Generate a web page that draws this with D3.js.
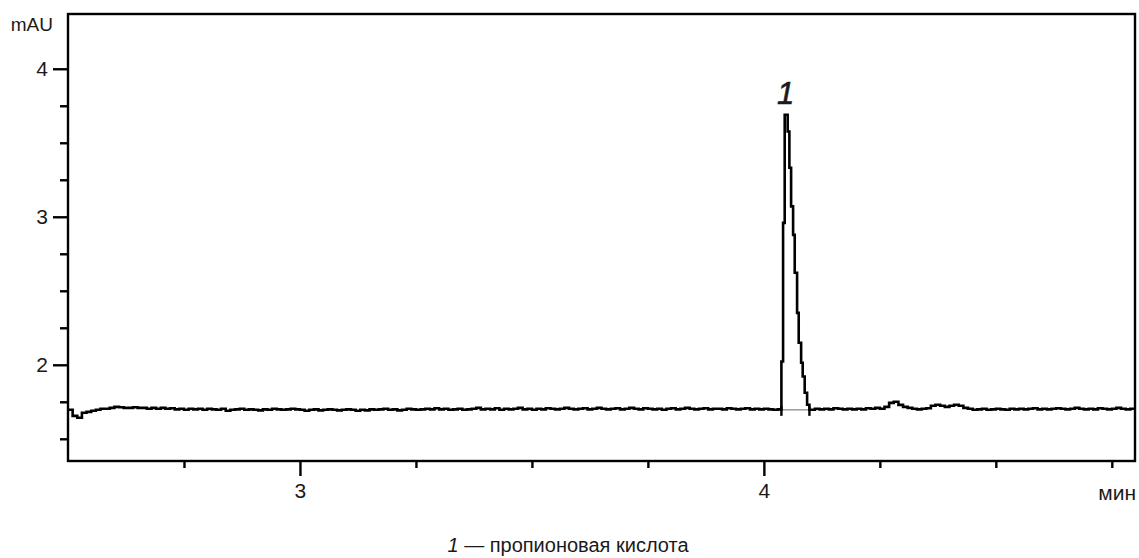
<!DOCTYPE html>
<html>
<head>
<meta charset="utf-8">
<script src="https://cdn.jsdelivr.net/npm/d3@7/dist/d3.min.js"></script>
<style>
  html, body { margin: 0; padding: 0; background: #fff; }
  #svg { width: 1139px; height: 558px; }
  text { font-family: "Liberation Sans", Arial, sans-serif; fill: #1a1a1a; }
</style>
</head>
<body>
<div id="svg"></div>
<script>
// detector signal, one value every 0.01 min
var sampleStep = 0.01;
var preStart = 2.50;
var preValues = [
  1.696, 1.655, 1.642, 1.676, 1.682, 1.689, 1.696, 1.703, 1.703, 1.709,
  1.716, 1.713, 1.709, 1.709, 1.713, 1.709, 1.709, 1.703, 1.709, 1.703,
  1.709, 1.703, 1.706, 1.699, 1.703, 1.696, 1.703, 1.699, 1.703, 1.696,
  1.703, 1.699, 1.696, 1.703, 1.689, 1.696, 1.699, 1.703, 1.696, 1.699,
  1.696, 1.692, 1.699, 1.696, 1.703, 1.699, 1.696, 1.699, 1.703, 1.699,
  1.696, 1.689, 1.696, 1.699, 1.692, 1.696, 1.699, 1.696, 1.692, 1.696,
  1.699, 1.696, 1.689, 1.696, 1.692, 1.699, 1.696, 1.699, 1.703, 1.696,
  1.699, 1.692, 1.696, 1.703, 1.699, 1.696, 1.699, 1.703, 1.699, 1.706,
  1.699, 1.703, 1.696, 1.699, 1.703, 1.696, 1.699, 1.703, 1.709, 1.699,
  1.703, 1.699, 1.706, 1.696, 1.703, 1.699, 1.703, 1.709, 1.699, 1.703,
  1.696, 1.703, 1.699, 1.706, 1.703, 1.699, 1.703, 1.709, 1.703, 1.699,
  1.703, 1.706, 1.699, 1.703, 1.709, 1.703, 1.699, 1.703, 1.706, 1.699,
  1.703, 1.709, 1.703, 1.699, 1.706, 1.703, 1.699, 1.703, 1.696, 1.703,
  1.706, 1.699, 1.703, 1.709, 1.703, 1.699, 1.703, 1.706, 1.699, 1.703,
  1.703, 1.699, 1.706, 1.703, 1.699, 1.703, 1.706, 1.699, 1.703, 1.699,
  1.703, 1.699, 1.696, 1.699
];
var peakTimes  = [4.0378, 4.0414, 4.0449, 4.0513, 4.0550, 4.0587, 4.0630, 4.0665,
                  4.0716, 4.0751, 4.0803, 4.0837, 4.0880, 4.0932, 4.0982];
var peakValues = [2.022, 2.959, 3.689, 3.576, 3.331, 3.070, 2.878, 2.622,
                  2.351, 2.149, 2.014, 1.921, 1.811, 1.730, 1.696];
var postStart = 4.10;
var postValues = [
  1.696, 1.703, 1.699, 1.703, 1.699, 1.706, 1.703, 1.699, 1.703, 1.699,
  1.703, 1.699, 1.706, 1.703, 1.709, 1.703, 1.716, 1.743, 1.750, 1.729,
  1.716, 1.709, 1.703, 1.699, 1.703, 1.706, 1.723, 1.730, 1.723, 1.716,
  1.723, 1.730, 1.723, 1.709, 1.703, 1.696, 1.699, 1.703, 1.696, 1.699,
  1.703, 1.699, 1.696, 1.703, 1.699, 1.703, 1.699, 1.703, 1.706, 1.699,
  1.703, 1.699, 1.703, 1.706, 1.703, 1.699, 1.703, 1.709, 1.703, 1.699,
  1.703, 1.699, 1.706, 1.703, 1.699, 1.703, 1.709, 1.703, 1.699, 1.703,
  1.703
];

var peakLabel = "1";
var peakStart = 4.0378, peakEnd = 4.0982, peakBase = 1.696;
var yMajor = [2, 3, 4];
var yMinor = [1.5, 1.75, 2.25, 2.5, 2.75, 3.25, 3.5, 3.75];
var xMajor = [3, 4];
var xMinor = [2.75, 3.25, 3.5, 3.75, 4.25, 4.5, 4.75];
var yUnit = "mAU", xUnit = "мин";
var legendNum = "1", legendText = " — пропионовая кислота";

var margin = {top: 14, right: 4, bottom: 97, left: 68},
    W = 1139, H = 558,
    width = W - margin.left - margin.right,
    height = H - margin.top - margin.bottom;

var x = d3.scaleLinear().domain([2.5, 4.8]).range([0, width]);
var y = d3.scaleLinear().domain([1.35, 4.37]).range([height, 0]);

var data = [];
preValues.forEach(function(v, i){ data.push({t: preStart + i * sampleStep, v: v}); });
peakTimes.forEach(function(t, i){ data.push({t: t, v: peakValues[i]}); });
postValues.forEach(function(v, i){ data.push({t: postStart + i * sampleStep, v: v}); });

var svg = d3.select('#svg').append('svg')
            .attr('width', W)
            .attr('height', H);

var g = svg.append('g')
           .attr('transform', 'translate(' + margin.left + ',' + margin.top + ')');

// integration baseline under the peak
g.append('line')
  .attr('x1', x(peakStart)).attr('x2', x(peakEnd))
  .attr('y1', y(peakBase)).attr('y2', y(peakBase))
  .attr('stroke', '#9a9a9a').attr('stroke-width', 1.5);

var line = d3.line()
      .x(function(d){ return x(d.t); })
      .y(function(d){ return y(d.v); })
      .curve(d3.curveStepAfter);

g.append('path')
  .datum(data)
  .attr('d', line)
  .attr('fill', 'none')
  .attr('stroke', '#000')
  .attr('stroke-width', 2.6);

// peak start / end markers
g.selectAll('.marker')
  .data([peakStart, peakEnd])
  .enter().append('line')
  .attr('class', 'marker')
  .attr('x1', function(d){ return x(d); }).attr('x2', function(d){ return x(d); })
  .attr('y1', y(1.72)).attr('y2', y(1.655))
  .attr('stroke', '#000').attr('stroke-width', 2.4);

g.append('text')
  .attr('x', x(4.047))
  .attr('y', y(3.71) - 8)
  .attr('text-anchor', 'middle')
  .style('font-size', '31px')
  .style('font-style', 'italic')
  .style('stroke', '#1a1a1a')
  .style('stroke-width', 0.6)
  .text(peakLabel);

// axes
var yAxis = d3.axisLeft(y).tickValues(yMajor).tickSize(15).tickPadding(5).tickFormat(d3.format('d'));
var yAxisMinor = d3.axisLeft(y).tickValues(yMinor).tickSize(8).tickFormat('');
var xAxis = d3.axisBottom(x).tickValues(xMajor).tickSize(15).tickPadding(7).tickFormat(d3.format('d'));
var xAxisMinor = d3.axisBottom(x).tickValues(xMinor).tickSize(7).tickFormat('');

g.append('g').attr('class', 'yaxis').call(yAxis);
g.append('g').attr('class', 'yaxis').call(yAxisMinor);
g.append('g').attr('class', 'xaxis').attr('transform', 'translate(0,' + height + ')').call(xAxis);
g.append('g').attr('class', 'xaxis').attr('transform', 'translate(0,' + height + ')').call(xAxisMinor);

g.selectAll('.domain').remove();
g.selectAll('.tick line').attr('stroke', '#000').attr('stroke-width', 2.4);
g.selectAll('.tick text')
  .style('font-size', '21px')
  .style('font-family', '"Liberation Sans", Arial, sans-serif')
  .attr('fill', '#1a1a1a');

// frame
g.append('rect')
  .attr('x', 0).attr('y', 0)
  .attr('width', width).attr('height', height)
  .attr('fill', 'none')
  .attr('stroke', '#000')
  .attr('stroke-width', 2.4);

svg.append('text')
  .attr('x', margin.left - 15)
  .attr('y', 31)
  .attr('text-anchor', 'end')
  .style('font-size', '19px')
  .text(yUnit);

svg.append('text')
  .attr('x', margin.left + width + 1)
  .attr('y', 500)
  .attr('text-anchor', 'end')
  .style('font-size', '21px')
  .text(xUnit);

var legend = svg.append('text')
  .attr('x', 568)
  .attr('y', 552)
  .attr('text-anchor', 'middle')
  .style('font-size', '20px');
legend.append('tspan').style('font-style', 'italic').text(legendNum);
legend.append('tspan').text(legendText);
</script>
</body>
</html>
